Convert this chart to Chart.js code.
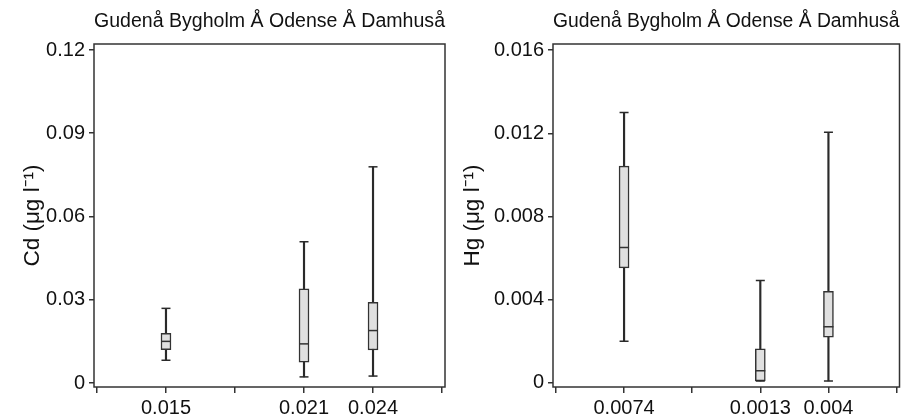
<!DOCTYPE html>
<html>
<head>
<meta charset="utf-8">
<script src="https://cdn.jsdelivr.net/npm/chart.js@4/dist/chart.umd.min.js"></script>
<style>
  body { margin: 0; background: #fff; }
  .wrap { display: flex; width: 906px; height: 414px; }
  canvas { display: block; }
</style>
</head>
<body>
<div class="wrap">
  <canvas id="cdChart" width="453" height="414"></canvas>
  <canvas id="hgChart" width="453" height="414"></canvas>
</div>
<script>
// rivers written above each panel
const rivers = ['Gudenå', 'Bygholm Å', 'Odense Å', 'Damhuså'];

// box positions on the x axis and their labels
const boxPositions = [1, 3, 4];
const xTickValues = [0, 1, 2, 3, 4, 5];

// Cd (µg l-1)
const cdLabels = ['0.015', '0.021', '0.024'];
const cdMin = [0.0082, 0.0022, 0.0025];
const cdQ1 = [0.0120, 0.0075, 0.0119];
const cdMedian = [0.0150, 0.0141, 0.0189];
const cdQ3 = [0.0179, 0.0339, 0.0291];
const cdMax = [0.0269, 0.0509, 0.0779];
const cdTicks = [0, 0.03, 0.06, 0.09, 0.12];

// Hg (µg l-1)
const hgLabels = ['0.0074', '0.0013', '0.004'];
const hgMin = [0.0020, 0.0001, 0.0001];
const hgQ1 = [0.00553, 0.0001, 0.0022];
const hgMedian = [0.00651, 0.00059, 0.0027];
const hgQ3 = [0.01042, 0.00164, 0.0044];
const hgMax = [0.0130, 0.00492, 0.01205];
const hgTicks = [0, 0.004, 0.008, 0.012, 0.016];

const fontFamily = "'Liberation Sans', Arial, sans-serif";
const ink = '#2a2a2a';

// draws the box around the plot area
const framePlugin = {
    id: 'frame',
    beforeDatasetsDraw(chart) {
        const a = chart.chartArea;
        const ctx = chart.ctx;
        ctx.save();
        ctx.strokeStyle = '#333';
        ctx.lineWidth = 1.5;
        ctx.strokeRect(a.left, a.top, a.right - a.left, a.bottom - a.top);
        ctx.restore();
    }
};

function makeBoxChart(id, s) {
    const pts = arr => boxPositions.map((x, i) => ({ x: x, y: arr[i] }));
    const ranges = (lo, hi) => boxPositions.map((x, i) => ({ x: x, y: [lo[i], hi[i]] }));

    new Chart(document.getElementById(id), {
        type: 'bar',
        data: {
            datasets: [
                {
                    // whisker line min..max
                    data: ranges(s.min, s.max),
                    backgroundColor: ink,
                    barThickness: 1.5,
                    grouped: false,
                    order: 3
                },
                {
                    // box q1..q3
                    data: ranges(s.q1, s.q3),
                    backgroundColor: '#e0e0e0',
                    borderColor: '#333',
                    borderWidth: 1.5,
                    borderSkipped: false,
                    barThickness: 10,
                    grouped: false,
                    order: 2
                },
                {
                    type: 'scatter',
                    data: pts(s.median),
                    pointStyle: 'line',
                    pointRadius: 5,
                    pointBorderWidth: 1.5,
                    pointBorderColor: '#333',
                    order: 1
                },
                {
                    type: 'scatter',
                    data: pts(s.min).concat(pts(s.max)),
                    pointStyle: 'line',
                    pointRadius: 4.5,
                    pointBorderWidth: 1.5,
                    pointBorderColor: ink,
                    order: 1
                }
            ]
        },
        options: {
            responsive: false,
            animation: false,
            events: [],
            layout: { padding: { left: 0, right: s.padRight, top: 0, bottom: 0 } },
            plugins: {
                legend: { display: false },
                tooltip: { enabled: false },
                title: {
                    display: true,
                    fullSize: false,
                    text: rivers.join(' '),
                    color: '#111',
                    font: { family: fontFamily, size: 20, weight: 'normal' },
                    padding: { top: 9, bottom: 11 }
                }
            },
            scales: {
                x: {
                    type: 'linear',
                    offset: false,
                    min: -0.043,
                    max: 5.043,
                    afterBuildTicks: scale => { scale.ticks = xTickValues.map(v => ({ value: v })); },
                    afterFit: scale => { scale.height = 27; },
                    grid: { offset: false, drawOnChartArea: false, tickLength: 6, color: '#333', lineWidth: 1.5 },
                    border: { display: false },
                    ticks: {
                        autoSkip: false,
                        maxRotation: 0,
                        padding: 3,
                        color: '#111',
                        font: { family: fontFamily, size: 20 },
                        callback: v => {
                            const i = boxPositions.indexOf(v);
                            return i >= 0 ? s.labels[i] : '';
                        }
                    }
                },
                y: {
                    min: s.yMin,
                    max: s.yMax,
                    afterBuildTicks: scale => { scale.ticks = s.ticks.map(v => ({ value: v })); },
                    afterFit: scale => { scale.width = s.axisWidth; },
                    grid: { drawOnChartArea: false, tickLength: 5, color: '#333', lineWidth: 1.5 },
                    border: { display: false },
                    ticks: {
                        padding: 4,
                        color: '#111',
                        font: { family: fontFamily, size: 20 },
                        callback: v => String(v)
                    },
                    title: {
                        display: true,
                        text: s.title,
                        color: '#111',
                        font: { family: fontFamily, size: 22.5 },
                        padding: { top: s.titlePad, bottom: 0 }
                    }
                }
            }
        },
        plugins: [framePlugin]
    });
}

makeBoxChart('cdChart', {
    labels: cdLabels, min: cdMin, q1: cdQ1, median: cdMedian, q3: cdQ3, max: cdMax,
    ticks: cdTicks, yMin: -0.00144, yMax: 0.12216,
    title: 'Cd (μg l⁻¹)', axisWidth: 94, padRight: 8, titlePad: 19
});

makeBoxChart('hgChart', {
    labels: hgLabels, min: hgMin, q1: hgQ1, median: hgMedian, q3: hgQ3, max: hgMax,
    ticks: hgTicks, yMin: -0.000193, yMax: 0.01629,
    title: 'Hg (μg l⁻¹)', axisWidth: 100, padRight: 5, titlePad: 6
});
</script>
</body>
</html>
